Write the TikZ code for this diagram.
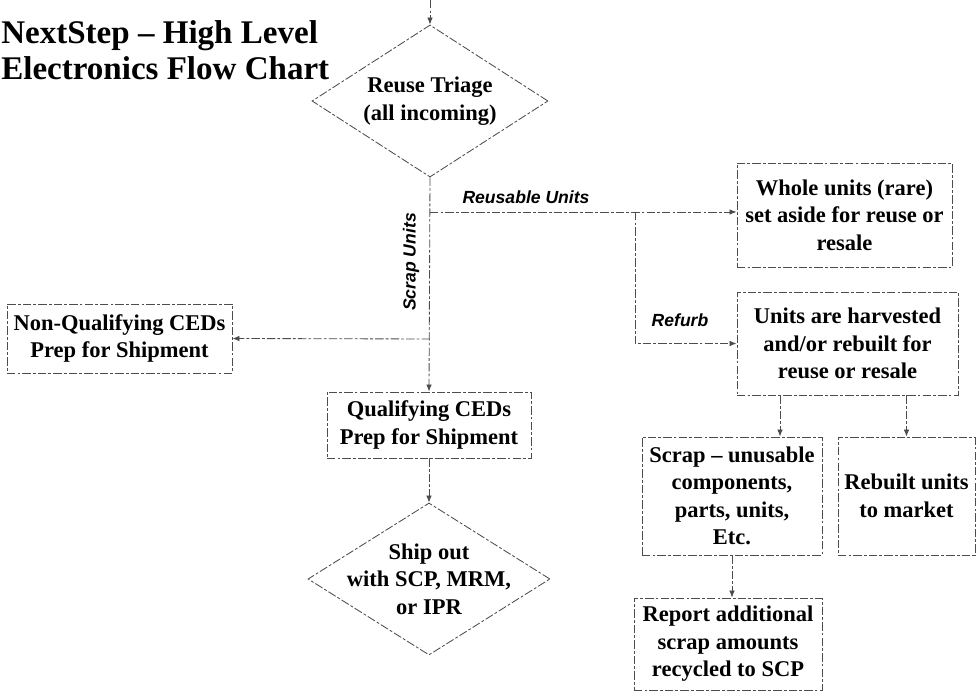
\documentclass[tikz,border=0pt]{standalone}
\usepackage{fontspec}
\setmainfont{Liberation Serif}
\newfontfamily\labelfont{Liberation Sans}
\usetikzlibrary{shapes.geometric,arrows.meta}

\tikzset{
  flowline/.style={line width=0.6pt, draw=black!70, dash pattern=on 6pt off 1.5pt on 2pt off 1.5pt},
  arr/.style={flowline, -{Latex[length=5pt,width=4pt]}},
  stepbox/.style={draw, flowline, rectangle, align=center, inner sep=2pt, text=black,
    font=\bfseries\fontsize{16}{19.5}\selectfont},
  decision/.style={draw, flowline, diamond, inner sep=0pt},
  txt/.style={align=center, text=black, font=\bfseries\fontsize{16}{19.5}\selectfont},
  branch/.style={font=\labelfont\bfseries\itshape\fontsize{12.5}{15}\selectfont},
}

\begin{document}
\begin{tikzpicture}[x=0.025cm, y=-0.025cm]
        \useasboundingbox (0,0) rectangle (976,694);
        % title
        \node[anchor=north west, inner sep=0pt, align=left, font=\bfseries\fontsize{23.5}{25.5}\selectfont] (title) at (1,20) {NextStep -- High Level\\Electronics Flow Chart};
        % main column
        \coordinate (start) at (430,0);
        \node[decision, minimum width=5.9cm, minimum height=3.8cm, label={[txt]center:Reuse Triage\\(all incoming)}] (triage) at (430,101) {};
        \node[stepbox, minimum width=5.1cm, minimum height=1.65cm] (qual) at (429,425) {Qualifying CEDs\\Prep for Shipment};
        \node[decision, minimum width=6.05cm, minimum height=3.8cm, label={[txt]center:Ship out\\with SCP, MRM,\\or IPR}] (ship) at (429,579) {};
        \node[stepbox, minimum width=5.625cm, minimum height=1.725cm] (nonq) at (119.5,338.5) {Non-Qualifying CEDs\\Prep for Shipment};
        % right side
        \node[stepbox, minimum width=5.375cm, minimum height=2.6cm] (whole) at (844.5,215) {Whole units (rare)\\set aside for reuse or\\resale};
        \node[stepbox, minimum width=5.525cm, minimum height=2.575cm] (harv) at (847.5,343.5) {Units are harvested\\and/or rebuilt for\\reuse or resale};
        \node[stepbox, minimum width=4.5cm, minimum height=2.95cm] (scrap) at (732,496) {Scrap -- unusable\\components,\\parts, units,\\Etc.};
        \node[stepbox, minimum width=3.425cm, minimum height=2.95cm] (rebuilt) at (906.5,496) {Rebuilt units\\to market};
        \node[stepbox, minimum width=4.7cm, minimum height=2.3cm] (report) at (728,644) {Report additional\\scrap amounts\\recycled to SCP};
        % branch points
        \coordinate (rsplit) at (430,212);
        \coordinate (fork) at (635,212);
        \coordinate (nqsplit) at (430,339);
        % connectors
        \draw[arr] (start) -- (triage.north);
        \draw[arr] (triage.south) -- (qual.north);
        \draw[arr] (qual.south) -- (ship.north);
        \draw[arr] (rsplit) -- (rsplit -| whole.west);
        \draw[arr] (fork) |- (harv.west);
        \draw[arr] (nqsplit) -- (nonq.east);
        \draw[arr] ([xshift=1.2cm]scrap.north |- harv.south) -- ([xshift=1.2cm]scrap.north);
        \draw[arr] (harv.south -| rebuilt.north) -- (rebuilt.north);
        \draw[arr] (scrap.south) -- (scrap.south |- report.north);
        % branch labels
        \node[branch] (reuselbl) at (526,197) {Reusable Units};
        \node[branch, rotate=90] (scraplbl) at (411,262) {Scrap Units};
        \node[branch] (refurblbl) at (680,320) {Refurb};
    \end{tikzpicture}
\end{document}
